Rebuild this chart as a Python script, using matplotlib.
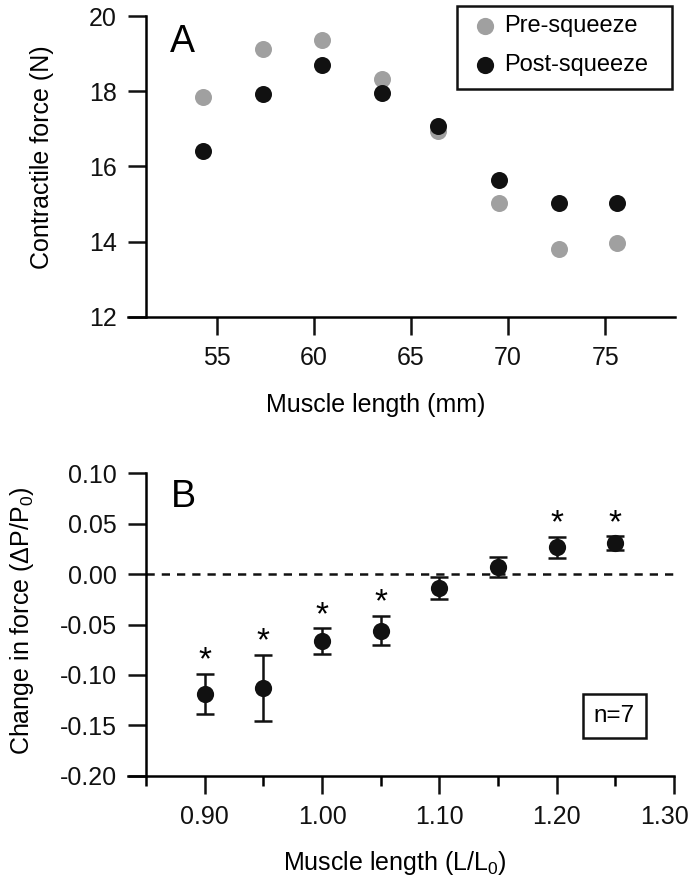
import matplotlib
matplotlib.use('Agg')
import matplotlib.pyplot as plt
from matplotlib.ticker import FixedLocator, StrMethodFormatter
from matplotlib.lines import Line2D
from matplotlib.patches import Rectangle
from matplotlib.transforms import ScaledTranslation

plt.rcParams['font.family'] = ['Liberation Sans', 'DejaVu Sans']
plt.rcParams['mathtext.fontset'] = 'custom'
plt.rcParams['mathtext.rm'] = 'Liberation Sans'
plt.rcParams['mathtext.it'] = 'Liberation Sans:italic'
plt.rcParams['axes.unicode_minus'] = False

# Panel A: contractile force vs muscle length
length_mm = [54.3, 57.4, 60.4, 63.5, 66.4, 69.55, 72.6, 75.6]
pre_force = [17.85, 19.12, 19.36, 18.32, 16.95, 15.03, 13.80, 13.95]
post_force = [16.42, 17.93, 18.69, 17.94, 17.07, 15.64, 15.02, 15.02]
series_labels = ['Pre-squeeze', 'Post-squeeze']
series_colors = ['#a0a0a0', '#111111']

# Panel B: change in force vs normalised length
length_rel = [0.90, 0.95, 1.00, 1.05, 1.10, 1.15, 1.20, 1.25]
d_force = [-0.119, -0.113, -0.0665, -0.0560, -0.0140, 0.0070, 0.0265, 0.0305]
d_err = [0.020, 0.033, 0.013, 0.0145, 0.0107, 0.0097, 0.0105, 0.0070]
significant = [True, True, True, True, False, False, True, True]

W, H = 691, 888
fig = plt.figure(figsize=(W / 100, H / 100), dpi=100)


def px_axes(x0, x1, ytop, ybot):
    return fig.add_axes([x0 / W, 1 - ybot / H, (x1 - x0) / W, (ybot - ytop) / H])


def style_axes(ax, yspine_x):
    for s in ['top', 'right']:
        ax.spines[s].set_visible(False)
    for s in ['left', 'bottom']:
        ax.spines[s].set_linewidth(1.8)
    ax.spines['left'].set_position(('data', yspine_x))
    ax.tick_params(which='major', direction='out', length=13, width=1.8,
                   labelsize=18, pad=8, colors='#111111')
    ax.tick_params(which='minor', direction='out', length=7, width=1.8)
    ax.patch.set_alpha(0)


# ---- Panel A ----
axA = px_axes(127.7, 674.7, 16, 316.7)
axA.set_xlim(50.42, 78.57)
axA.set_ylim(12, 20)
style_axes(axA, 51.36)
axA.xaxis.set_major_locator(FixedLocator([55, 60, 65, 70, 75]))
axA.yaxis.set_major_locator(FixedLocator([12, 14, 16, 18, 20]))
axA.scatter(length_mm, pre_force, s=150, color=series_colors[0], linewidths=0, zorder=3)
axA.scatter(length_mm, post_force, s=150, color=series_colors[1], linewidths=0, zorder=4)
fig.text(182.7 / W, 1 - 41.7 / H, 'A', fontsize=27, ha='center', va='center')

# legend box drawn by hand so it sits where the reference has it
fig.patches.append(Rectangle((457 / W, 1 - 89 / H), 215 / W, 83 / H,
                             transform=fig.transFigure, fill=False,
                             ec='#111111', lw=1.8))
for i, (lab, col) in enumerate(zip(series_labels, series_colors)):
    yy = 1 - (26 + 39 * i) / H
    fig.add_artist(Line2D([485 / W], [yy], transform=fig.transFigure, ls='none',
                          marker='o', ms=12.4, mec='none', mfc=col))
    fig.text(504 / W, yy, lab, fontsize=17, ha='left', va='center')

fig.text(42 / W, 1 - 157 / H, 'Contractile force (N)', rotation=90, fontsize=18,
         ha='center', va='center')
fig.text(376 / W, 1 - 405 / H, 'Muscle length (mm)', fontsize=18,
         ha='center', va='center')

# ---- Panel B ----
axB = px_axes(127.7, 674, 473.3, 775.7)
axB.set_xlim(0.8344, 1.30)
axB.set_ylim(-0.20, 0.10)
style_axes(axB, 0.85)
axB.xaxis.set_major_locator(FixedLocator([0.90, 1.00, 1.10, 1.20, 1.30]))
axB.xaxis.set_minor_locator(FixedLocator([0.85, 0.95, 1.05, 1.15, 1.25]))
axB.yaxis.set_major_locator(FixedLocator([-0.20, -0.15, -0.10, -0.05, 0.0, 0.05, 0.10]))
axB.xaxis.set_major_formatter(StrMethodFormatter('{x:.2f}'))
axB.yaxis.set_major_formatter(StrMethodFormatter('{x:.2f}'))
axB.hlines(0, 0.85, 1.30, colors='#111111', linewidth=1.8,
           linestyles=(0, (3.3, 2.8)), zorder=2)
axB.errorbar(length_rel, d_force, yerr=d_err, fmt='o', ms=12.4, color='#111111',
             mec='none', elinewidth=1.8, capsize=6.4, capthick=1.8, zorder=4)
for x, y, e, sig in zip(length_rel, d_force, d_err, significant):
    if sig:
        axB.annotate('*', (x, y + e), xytext=(0, 3), textcoords='offset points',
                     ha='center', va='baseline', fontsize=24)
fig.text(614.3 / W, 1 - 716 / H, 'n=7', fontsize=17.5, ha='center', va='center',
         bbox=dict(boxstyle='square,pad=0.45', fc='white', ec='#111111', lw=1.8))
fig.text(183 / W, 1 - 497 / H, 'B', fontsize=27, ha='center', va='center')

fig.text(22 / W, 1 - 621 / H, 'Change in force (ΔP/P$_0$)', rotation=90, fontsize=18,
         ha='center', va='center')
fig.text(395 / W, 1 - 863 / H, 'Muscle length (L/L$_0$)', fontsize=18,
         ha='center', va='center')

# last tick label sits inside the figure edge, as in the reference
fig.canvas.draw()
last = axB.get_xticklabels()[-1]
last.set_transform(last.get_transform() + ScaledTranslation(-10 / 100, 0, fig.dpi_scale_trans))

fig.savefig('out.png', dpi=100)
